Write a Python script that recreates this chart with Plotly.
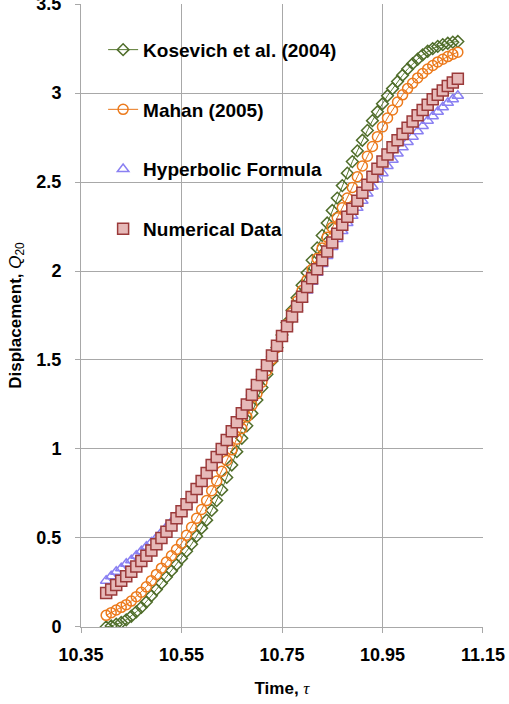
import plotly.graph_objects as go

time = [round(10.40 + 0.01 * i, 2) for i in range(71)]

kosevich = [0.000, 0.005, 0.015, 0.025, 0.040, 0.060, 0.085, 0.110, 0.140, 0.175,
            0.210, 0.245, 0.280, 0.315, 0.350, 0.385, 0.425, 0.465, 0.510, 0.555,
            0.600, 0.655, 0.710, 0.770, 0.840, 0.910, 0.985, 1.060, 1.130, 1.200,
            1.275, 1.345, 1.420, 1.495, 1.570, 1.640, 1.710, 1.780, 1.850, 1.920,
            1.990, 2.060, 2.130, 2.200, 2.270, 2.340, 2.410, 2.480, 2.550, 2.615,
            2.675, 2.735, 2.790, 2.845, 2.895, 2.940, 2.985, 3.025, 3.065, 3.100,
            3.135, 3.165, 3.190, 3.215, 3.235, 3.250, 3.262, 3.272, 3.280, 3.286,
            3.290]

mahan = [0.065, 0.080, 0.095, 0.110, 0.125, 0.145, 0.170, 0.195, 0.225, 0.260,
         0.295, 0.330, 0.365, 0.400, 0.435, 0.470, 0.515, 0.560, 0.610, 0.660,
         0.710, 0.765, 0.820, 0.875, 0.935, 0.995, 1.055, 1.115, 1.180, 1.245,
         1.310, 1.375, 1.440, 1.505, 1.570, 1.635, 1.700, 1.765, 1.830, 1.890,
         1.950, 2.010, 2.070, 2.130, 2.190, 2.245, 2.300, 2.355, 2.410, 2.470,
         2.530, 2.590, 2.645, 2.700, 2.755, 2.810, 2.860, 2.905, 2.950, 2.990,
         3.025, 3.055, 3.085, 3.110, 3.135, 3.155, 3.175, 3.190, 3.205, 3.218,
         3.230]

hyperbolic = [0.260, 0.285, 0.310, 0.330, 0.355, 0.375, 0.400, 0.425, 0.450, 0.475,
              0.500, 0.530, 0.560, 0.590, 0.620, 0.650, 0.685, 0.725, 0.765, 0.810,
              0.855, 0.905, 0.955, 1.005, 1.055, 1.105, 1.155, 1.205, 1.260, 1.315,
              1.365, 1.420, 1.475, 1.530, 1.580, 1.635, 1.685, 1.740, 1.790, 1.840,
              1.890, 1.940, 1.990, 2.040, 2.085, 2.135, 2.180, 2.225, 2.270, 2.310,
              2.355, 2.395, 2.435, 2.475, 2.515, 2.550, 2.590, 2.625, 2.660, 2.695,
              2.725, 2.755, 2.785, 2.815, 2.845, 2.870, 2.895, 2.920, 2.945, 2.965,
              2.985]

numerical = [0.190, 0.210, 0.235, 0.260, 0.285, 0.310, 0.340, 0.370, 0.400, 0.430,
             0.465, 0.500, 0.535, 0.570, 0.610, 0.650, 0.690, 0.730, 0.775, 0.820,
             0.865, 0.910, 0.955, 1.000, 1.050, 1.100, 1.150, 1.200, 1.250, 1.305,
             1.360, 1.415, 1.470, 1.525, 1.580, 1.635, 1.690, 1.745, 1.800, 1.855,
             1.910, 1.960, 2.010, 2.060, 2.110, 2.160, 2.210, 2.260, 2.305, 2.350,
             2.395, 2.440, 2.485, 2.530, 2.575, 2.615, 2.655, 2.695, 2.735, 2.770,
             2.805, 2.840, 2.875, 2.905, 2.935, 2.965, 2.990, 3.015, 3.040, 3.060,
             3.080]

names = ["Kosevich et al. (2004)", "Mahan (2005)", "Hyperbolic Formula", "Numerical Data"]
x_ticks = [10.35, 10.55, 10.75, 10.95, 11.15]
y_ticks = [0, 0.5, 1, 1.5, 2, 2.5, 3, 3.5]

FONT = "Liberation Sans, Arial, sans-serif"
GRID = "#a8a8a8"

fig = go.Figure()

fig.add_trace(go.Scatter(
    x=time, y=kosevich, name=names[0], mode="lines+markers", legendgroup="a",
    line=dict(color="#5a7a32", width=1),
    marker=dict(symbol="diamond-open", size=9, color="#4f6d2a", line=dict(width=1.5)),
))
fig.add_trace(go.Scatter(
    x=time, y=mahan, name=names[1], mode="lines+markers", legendgroup="b",
    line=dict(color="#e8761a", width=1),
    marker=dict(symbol="circle-open", size=10, color="#ec7a1c", line=dict(width=1.5)),
))
fig.add_trace(go.Scatter(
    x=time, y=hyperbolic, name=names[2], mode="markers", legendgroup="c",
    marker=dict(symbol="triangle-up-open", size=10, color="#8a80f2", line=dict(width=1.5)),
))
fig.add_trace(go.Scatter(
    x=time, y=numerical, name=names[3], mode="markers", legendgroup="d",
    marker=dict(symbol="square", size=11, color="#e6b9b8",
                line=dict(color="#9b3a3a", width=1.5)),
))

fig.update_layout(
    width=509, height=704,
    margin=dict(l=81, r=26, t=4, b=77),
    paper_bgcolor="white", plot_bgcolor="white",
    font=dict(family=FONT, color="black"),
    showlegend=True,
    legend=dict(
        x=0.055, y=0.957, xanchor="left", yanchor="top",
        bgcolor="rgba(0,0,0,0)",
        font=dict(family=FONT, size=19, color="black", weight="bold"),
        tracegroupgap=32,
        itemwidth=30,
    ),
    xaxis=dict(
        range=[10.3499, 11.1501], tickvals=x_ticks, ticktext=[f"{v:.2f}" for v in x_ticks],
        showgrid=True, gridcolor=GRID, gridwidth=1,
        showline=True, linecolor=GRID, linewidth=1,
        ticks="outside", ticklen=5, tickcolor=GRID,
        tickfont=dict(family=FONT, size=18, weight="bold"),
        ticklabelstandoff=6, ticklabeloverflow="allow",
        zeroline=False, automargin=False,
        title=dict(text="<b>Time, </b><span style='font-family:Liberation Serif'><i>τ</i></span>",
                   font=dict(family=FONT, size=17), standoff=18),
    ),
    yaxis=dict(
        range=[-0.0005, 3.5005], tickvals=y_ticks, ticktext=[f"{v:g}" for v in y_ticks],
        showgrid=True, gridcolor=GRID, gridwidth=1,
        showline=True, linecolor=GRID, linewidth=1,
        ticks="outside", ticklen=5, tickcolor=GRID,
        tickfont=dict(family=FONT, size=18, weight="bold"),
        ticklabelstandoff=10, ticklabeloverflow="allow",
        zeroline=False, automargin=False,
        title=dict(text="<b>Displacement, </b><i>Q</i><sub>20</sub>",
                   font=dict(family=FONT, size=17), standoff=10),
    ),
)

fig.write_html(
    "out.html",
    config={"displayModeBar": False},
    post_script="document.body.style.margin='0';document.body.style.overflow='hidden';",
)
